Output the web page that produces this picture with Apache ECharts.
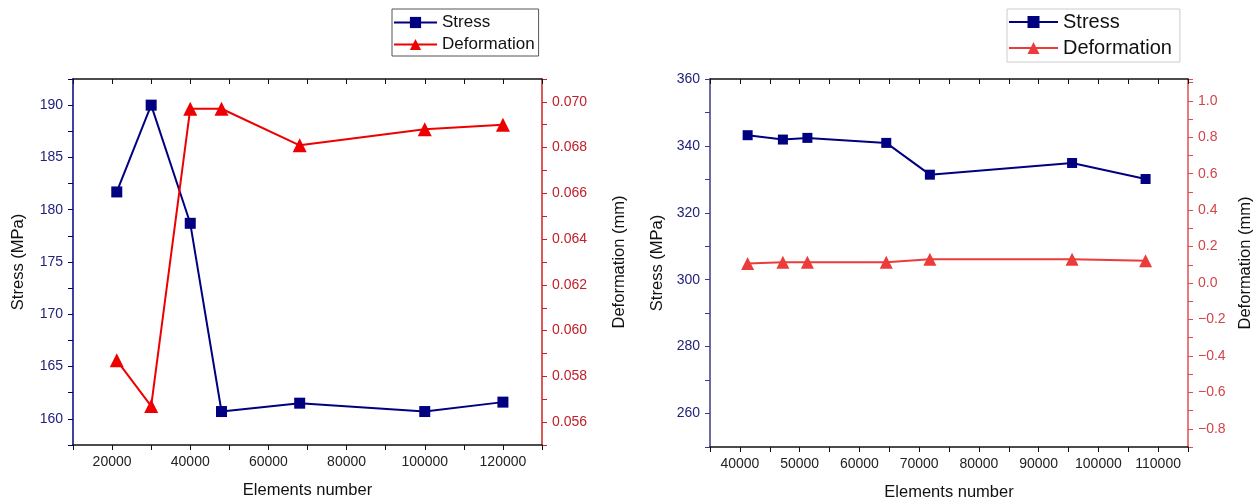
<!DOCTYPE html>
<html>
<head>
<meta charset="utf-8">
<title>Mesh independence</title>
<script src="https://cdn.jsdelivr.net/npm/echarts@6/dist/echarts.min.js"></script>
<style>
  html, body { margin: 0; padding: 0; background: #fff; }
  #left, #right { position: absolute; top: 0; width: 628px; height: 501px; }
  #left { left: 0; }
  #right { left: 628px; }
</style>
</head>
<body>
<div id="left"></div>
<div id="right"></div>
<script>
// left plot data
var leftElements = [21200, 30000, 40000, 48000, 68000, 100000, 120000];
var leftStress = [181.7, 190.0, 178.7, 160.7, 161.5, 160.7, 161.6];
var leftDeformation = [0.0587, 0.0567, 0.0697, 0.0697, 0.0681, 0.0688, 0.0690];
var leftXTicks = [20000, 40000, 60000, 80000, 100000, 120000];
var leftStressTicks = [160, 165, 170, 175, 180, 185, 190];
var leftDefTicks = [0.056, 0.058, 0.060, 0.062, 0.064, 0.066, 0.068, 0.070];

// right plot data
var rightElements = [41300, 47200, 51300, 64500, 71800, 95600, 107900];
var rightStress = [343.2, 341.9, 342.4, 340.9, 331.4, 334.9, 330.1];
var rightDeformation = [0.107, 0.114, 0.114, 0.114, 0.130, 0.130, 0.123];
var rightXTicks = [40000, 50000, 60000, 70000, 80000, 90000, 100000, 110000];
var rightStressTicks = [260, 280, 300, 320, 340, 360];
var rightDefTicks = [-0.8, -0.6, -0.4, -0.2, 0.0, 0.2, 0.4, 0.6, 0.8, 1.0];

var FONT = "'Liberation Sans', Arial, sans-serif";

// show a label only on the listed ticks
function onlyTicks(list, fmt) {
	return function (v) {
		for (var i = 0; i < list.length; i++) {
			if (Math.abs(v - list[i]) < 1e-9) return fmt ? fmt(list[i]) : String(list[i]);
		}
		return '';
	};
}

function pairs(xs, ys) {
	return xs.map(function (x, i) { return [x, ys[i]]; });
}

// bottom axis + mirrored top axis (ticks pointing into the box)
function boxXAxes(min, max, interval, ticks) {
	return [
		{
			type: 'value', position: 'bottom',
			min: min, max: max, interval: interval,
			name: 'Elements number', nameLocation: 'middle', nameGap: 37,
			nameTextStyle: { fontSize: 16.5, color: '#111', fontFamily: FONT },
			axisLine: { onZero: false, lineStyle: { color: '#111', width: 1.5 } },
			axisTick: { inside: false, length: 5, lineStyle: { color: '#111' } },
			axisLabel: { margin: 10, fontSize: 14, color: '#222', formatter: onlyTicks(ticks) },
			splitLine: { show: false }
		},
		{
			type: 'value', position: 'top',
			min: min, max: max, interval: interval,
			axisLine: { onZero: false, lineStyle: { color: '#111', width: 1.5 } },
			axisTick: { inside: true, length: 5, lineStyle: { color: '#111' } },
			axisLabel: { show: false },
			splitLine: { show: false }
		}
	];
}

loadLeft();
loadRight();

function loadLeft(){
	var chart = echarts.init(document.getElementById('left'));
	var blue = '#000080', red = '#ee0000';
	var option = {
		animation: false,
		textStyle: { fontFamily: FONT },
		legend: {
			orient: 'vertical',
			left: 392, top: 9,
			padding: [5, 4, 3, 1],
			itemGap: 5,
			itemWidth: 43,
			itemHeight: 14,
			borderColor: '#555', borderWidth: 1,
			textStyle: { fontSize: 17, color: '#111', fontFamily: FONT },
			data: ['Stress', 'Deformation']
		},
		grid: { left: 73, top: 79, width: 469, height: 366, outerBoundsMode: 'none', containLabel: false },
		xAxis: boxXAxes(10000, 130000, 10000, leftXTicks),
		yAxis: [
			{
				type: 'value', position: 'left',
				min: 157.5, max: 192.5, interval: 2.5,
				name: 'Stress (MPa)', nameLocation: 'middle', nameGap: 46,
				nameTextStyle: { fontSize: 16.5, color: '#111', fontFamily: FONT },
				axisLine: { show: true, onZero: false, lineStyle: { color: blue, width: 1.5 } },
				axisTick: { show: true, length: 5, lineStyle: { color: blue } },
				axisLabel: { margin: 10, fontSize: 14, color: '#22227a', formatter: onlyTicks(leftStressTicks) },
				splitLine: { show: false }
			},
			{
				type: 'value', position: 'right',
				min: 0.055, max: 0.071, interval: 0.001,
				name: 'Deformation (mm)', nameLocation: 'middle', nameGap: 69,
				nameTextStyle: { fontSize: 16.5, color: '#111', fontFamily: FONT },
				axisLine: { show: true, onZero: false, lineStyle: { color: '#cc2222', width: 1.5 } },
				axisTick: { show: true, length: 5, lineStyle: { color: '#cc2222' } },
				axisLabel: {
					margin: 10, fontSize: 14, color: '#c0202a',
					formatter: onlyTicks(leftDefTicks, function (t) { return t.toFixed(3); })
				},
				splitLine: { show: false }
			}
		],
		series: [
			{
				name: 'Stress', type: 'line',
				xAxisIndex: 0, yAxisIndex: 0,
				symbol: 'rect', symbolSize: 11,
				itemStyle: { color: blue },
				lineStyle: { color: blue, width: 2 },
				data: pairs(leftElements, leftStress)
			},
			{
				name: 'Deformation', type: 'line',
				xAxisIndex: 0, yAxisIndex: 1,
				symbol: 'triangle', symbolSize: 14,
				itemStyle: { color: red },
				lineStyle: { color: red, width: 2 },
				data: pairs(leftElements, leftDeformation)
			}
		]
	};
	chart.setOption(option);
}

function loadRight(){
	var chart = echarts.init(document.getElementById('right'));
	var blue = '#000080', red = '#ec3b3b';
	var option = {
		animation: false,
		textStyle: { fontFamily: FONT },
		legend: {
			orient: 'vertical',
			left: 379, top: 9,
			padding: [3, 8, 4, 1],
			itemGap: 6,
			itemWidth: 49,
			itemHeight: 15,
			borderColor: '#ccc', borderWidth: 1,
			textStyle: { fontSize: 20, color: '#111', fontFamily: FONT },
			data: ['Stress', 'Deformation']
		},
		grid: { left: 82, top: 79, width: 478, height: 368, outerBoundsMode: 'none', containLabel: false },
		xAxis: boxXAxes(35000, 115000, 5000, rightXTicks),
		yAxis: [
			{
				type: 'value', position: 'left',
				min: 250, max: 360, interval: 10,
				name: 'Stress (MPa)', nameLocation: 'middle', nameGap: 44,
				nameTextStyle: { fontSize: 16.5, color: '#111', fontFamily: FONT },
				axisLine: { show: true, onZero: false, lineStyle: { color: '#3a3a88', width: 1.5 } },
				axisTick: { show: true, length: 5, lineStyle: { color: '#3a3a88' } },
				axisLabel: { margin: 10, fontSize: 14, color: '#22227a', formatter: onlyTicks(rightStressTicks) },
				splitLine: { show: false }
			},
			{
				type: 'value', position: 'right',
				min: -0.9, max: 1.12, interval: 0.1,
				name: 'Deformation (mm)', nameLocation: 'middle', nameGap: 47,
				nameTextStyle: { fontSize: 16.5, color: '#111', fontFamily: FONT },
				axisLine: { show: true, onZero: false, lineStyle: { color: '#e04c52', width: 1.5 } },
				axisTick: { show: true, length: 5, lineStyle: { color: '#e04c52' } },
				axisLabel: {
					margin: 10, fontSize: 14, color: '#d0454a',
					formatter: onlyTicks(rightDefTicks, function (t) { return t.toFixed(1).replace('-', '\u2212'); })
				},
				splitLine: { show: false }
			}
		],
		series: [
			{
				name: 'Stress', type: 'line',
				xAxisIndex: 0, yAxisIndex: 0,
				symbol: 'rect', symbolSize: 10,
				itemStyle: { color: blue },
				lineStyle: { color: blue, width: 2 },
				data: pairs(rightElements, rightStress)
			},
			{
				name: 'Deformation', type: 'line',
				xAxisIndex: 0, yAxisIndex: 1,
				symbol: 'triangle', symbolSize: 13,
				itemStyle: { color: red },
				lineStyle: { color: red, width: 2 },
				data: pairs(rightElements, rightDeformation)
			}
		]
	};
	chart.setOption(option);
}
</script>
</body>
</html>
